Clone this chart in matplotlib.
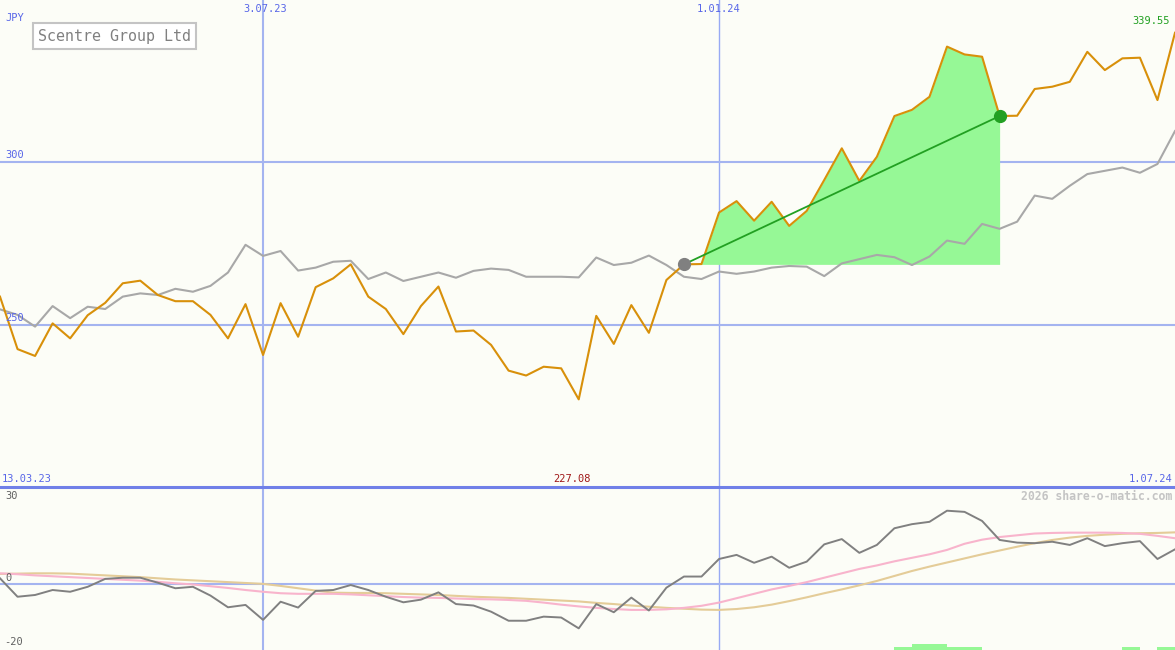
import numpy as np
import matplotlib
matplotlib.use("Agg")
import matplotlib.pyplot as plt

# weekly closes (JPY), 13.03.23 .. 1.07.24
price = [258.6, 242.5, 240.4, 250.4, 245.8, 252.9, 256.7, 262.7, 263.5, 259.1,
         257.2, 257.2, 253.0, 245.8, 256.3, 240.7, 256.6, 246.3, 261.5, 264.2,
         268.5, 258.6, 254.8, 247.1, 255.7, 261.7, 247.9, 248.2, 243.8, 235.9,
         234.4, 237.1, 236.6, 227.08, 252.7, 244.1, 256.0, 247.5, 263.7, 268.5,
         268.6, 284.4, 287.9, 281.9, 287.7, 280.3, 284.9, 294.4, 304.1, 294.1,
         301.5, 314.0, 315.9, 319.9, 335.3, 332.9, 332.2, 314.0, 314.1, 322.3,
         323.0, 324.5, 333.7, 328.1, 331.7, 331.9, 318.9, 339.55]

# comparison index, rebased
index_line = [254.7, 253.0, 249.4, 255.7, 252.0, 255.5, 254.8, 258.6, 259.6, 259.1,
              261.0, 260.1, 261.9, 266.0, 274.5, 271.1, 272.6, 266.6, 267.5, 269.3,
              269.6, 264.0, 266.0, 263.4, 264.7, 266.0, 264.4, 266.5, 267.2, 266.8,
              264.7, 264.7, 264.7, 264.5, 270.6, 268.3, 269.0, 271.2, 268.3, 264.7,
              264.0, 266.3, 265.6, 266.3, 267.5, 268.0, 267.8, 264.9, 268.8, 270.1,
              271.4, 270.7, 268.3, 270.9, 275.8, 274.8, 280.9, 279.4, 281.6, 289.6,
              288.6, 292.6, 296.2, 297.2, 298.2, 296.6, 299.3, 309.4]

# lower panel: oscillator and its two averages
osc = [1.8, -4.5, -3.9, -2.2, -2.8, -1.1, 1.6, 2.0, 2.0, 0.3,
       -1.6, -1.1, -4.1, -8.1, -7.3, -12.4, -6.2, -8.2, -2.5, -2.2,
       -0.5, -2.2, -4.5, -6.4, -5.5, -3.0, -7.0, -7.5, -9.6, -12.7,
       -12.7, -11.3, -11.6, -15.3, -7.0, -9.8, -4.8, -9.2, -1.4, 2.4,
       2.4, 8.4, 9.8, 7.1, 9.2, 5.4, 7.5, 13.4, 15.2, 10.5,
       13.2, 18.9, 20.3, 21.1, 24.9, 24.5, 21.4, 14.9, 14.0, 13.8,
       14.3, 13.2, 15.5, 12.8, 13.8, 14.5, 8.4, 11.7]

avg_fast = [3.5, 3.2, 2.8, 2.5, 2.2, 1.9, 1.6, 1.3, 1.0, 0.6,
            0.1, -0.3, -0.9, -1.5, -2.2, -2.8, -3.3, -3.5, -3.5, -3.5,
            -3.7, -4.0, -4.3, -4.6, -4.8, -4.9, -5.1, -5.3, -5.4, -5.6,
            -5.9, -6.5, -7.2, -7.8, -8.3, -8.7, -9.0, -9.0, -8.8, -8.3,
            -7.6, -6.5, -5.0, -3.5, -2.0, -0.8, 0.5, 2.0, 3.5, 5.0,
            6.2, 7.6, 8.8, 10.0, 11.5, 13.6, 15.0, 15.9, 16.5, 17.1,
            17.3, 17.4, 17.4, 17.4, 17.3, 17.0, 16.3, 15.5]

avg_slow = [3.3, 3.4, 3.5, 3.5, 3.4, 3.1, 2.8, 2.5, 2.2, 1.8,
            1.4, 1.1, 0.8, 0.5, 0.2, -0.1, -0.8, -1.6, -2.4, -3.1,
            -3.2, -3.2, -3.3, -3.5, -3.7, -3.9, -4.2, -4.5, -4.7, -4.9,
            -5.2, -5.5, -5.8, -6.1, -6.6, -7.0, -7.5, -7.9, -8.3, -8.6,
            -8.9, -9.0, -8.7, -8.1, -7.2, -6.0, -4.7, -3.3, -2.0, -0.6,
            0.9, 2.6, 4.3, 5.8, 7.2, 8.6, 10.0, 11.3, 12.6, 13.8,
            14.9, 15.7, 16.3, 16.7, 17.0, 17.2, 17.3, 17.5]

signal_idx = [51, 52, 53, 54, 55, 64, 66]
signal_h = [1, 2, 2, 1, 1, 1, 1]

trend_start = 39
trend_end = 57

W, H = 1175, 650
BG = "#fcfdf7"
GRID = "#a4b4f0"
BLUE_TXT = "#5866e8"
MONO = "DejaVu Sans Mono"


def fx(px):
    return px / W


def fy(py):
    return 1 - py / H


fig = plt.figure(figsize=(W / 100, H / 100), dpi=100, facecolor=BG)
ax = fig.add_axes([0, 163 / H, 1, 487 / H], facecolor=BG)
ax2 = fig.add_axes([0, 0, 1, 163 / H], facecolor=BG)

x = np.arange(len(price))
n = len(price) - 1

# ---- top panel
for a in (ax, ax2):
    a.set_xlim(0, n)
    a.set_xticks([])
    a.set_yticks([])
    for s in a.spines.values():
        s.set_visible(False)
    a.axvline(15, color=GRID, lw=1.5, zorder=1)
    a.axvline(41, color="#98aaf4", lw=1.0, zorder=1)

ax.set_ylim(200.2, 349.6)
for lvl in (250, 300):
    ax.axhline(lvl, color=GRID, lw=1.5, zorder=1)

xs = x[trend_start:trend_end + 1]
ys = np.array(price[trend_start:trend_end + 1])
ax.fill_between(xs, ys, price[trend_start], color="#96f896", lw=0, zorder=2)

ax.plot(x, index_line, color="#a8a8a8", lw=1.5, zorder=3)
ax.plot(x, price, color="#d8900a", lw=1.5, zorder=4)
ax.plot([trend_start, trend_end], [price[trend_start], price[trend_end]],
        color="#22a022", lw=1.3, zorder=5)
ax.plot(trend_start, price[trend_start], "o", color="#808080", ms=8.5, zorder=6)
ax.plot(trend_end, price[trend_end], "o", color="#22a022", ms=8.5, zorder=6)

# ---- bottom panel
ax2.set_ylim(-22.7, 33.0)
ax2.axhline(0, color=GRID, lw=1.5, zorder=1)
ax2.bar(signal_idx, signal_h, width=1, align="edge", bottom=-22.7,
        color="#96f896", lw=0, zorder=2)
ax2.plot(x, avg_slow, color="#e4cc98", lw=1.5, zorder=3)
ax2.plot(x, avg_fast, color="#f8b4cc", lw=1.5, zorder=3)
ax2.plot(x, osc, color="#808080", lw=1.4, zorder=4)

# divider between panels
fig.add_artist(plt.Line2D([0, 1], [fy(487), fy(487)], color="#7080e8", lw=2.2))

# ---- texts
fs = 7.5
fig.text(fx(5), fy(18), "JPY", color=BLUE_TXT, fontsize=fs, family=MONO, va="center")
fig.text(fx(265), fy(9), "3.07.23", color=BLUE_TXT, fontsize=fs, family=MONO,
         ha="center", va="center")
fig.text(fx(719), fy(9), "1.01.24", color=BLUE_TXT, fontsize=fs, family=MONO,
         ha="center", va="center")
fig.text(fx(1170), fy(21), "339.55", color="#22a022", fontsize=fs, family=MONO,
         ha="right", va="center")
fig.text(fx(5), fy(155), "300", color=BLUE_TXT, fontsize=fs, family=MONO, va="center")
fig.text(fx(5), fy(318), "250", color=BLUE_TXT, fontsize=fs, family=MONO, va="center")
fig.text(fx(2), fy(479), "13.03.23", color=BLUE_TXT, fontsize=fs, family=MONO, va="center")
fig.text(fx(572), fy(479), "227.08", color="#a01818", fontsize=fs, family=MONO,
         ha="center", va="center")
fig.text(fx(1172), fy(479), "1.07.24", color=BLUE_TXT, fontsize=fs, family=MONO,
         ha="right", va="center")
fig.text(fx(5), fy(496), "30", color="#606060", fontsize=fs, family=MONO, va="center")
fig.text(fx(5), fy(578), "0", color="#606060", fontsize=fs, family=MONO, va="center")
fig.text(fx(4), fy(642), "-20", color="#606060", fontsize=fs, family=MONO, va="center")
fig.text(fx(1172), fy(496), "2026 share-o-matic.com", color="#c4c4c4", fontsize=8.3,
         family=MONO, fontweight="bold", ha="right", va="center")

fig.text(fx(38), fy(36), "Scentre Group Ltd", color="#808080", fontsize=10.8,
         family=MONO, va="center",
         bbox=dict(boxstyle="square,pad=0.35", fc="white", ec="#c4c4c4", lw=1.5))

fig.savefig("out.png", dpi=100, facecolor=BG)
